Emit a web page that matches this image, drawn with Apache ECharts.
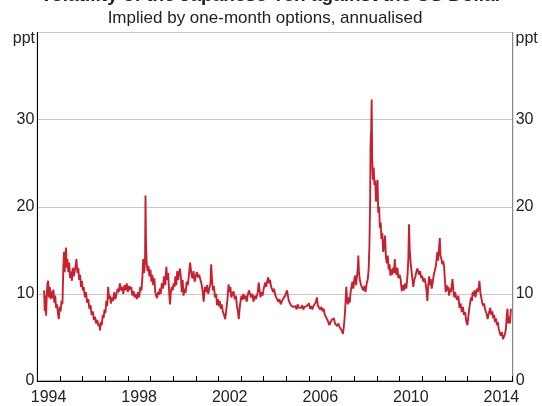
<!DOCTYPE html>
<html>
<head>
<meta charset="utf-8">
<script src="https://cdn.jsdelivr.net/npm/echarts@6/dist/echarts.min.js"></script>
<style>
html,body{margin:0;padding:0;background:#fff;}
#chart{width:542px;height:406px;}
</style>
</head>
<body>
<div id="chart"></div>
<script>
var titleText = 'Volatility of the Japanese Yen against the US Dollar';
var subtitleText = 'Implied by one-month options, annualised';
var unitLabel = 'ppt';
var yTicks = [0, 10, 20, 30, 40];
var xLabelYears = [1994, 1998, 2002, 2006, 2010, 2014];

var years = [
1994.30,1994.33,1994.36,1994.39,1994.42,1994.45,1994.48,1994.51,1994.55,1994.59,1994.63,1994.67,1994.71,1994.75,1994.79,1994.83,1994.87,1994.91,1994.95,1994.99,
1995.03,1995.07,1995.11,1995.15,1995.18,1995.21,1995.24,1995.27,1995.30,1995.33,1995.37,1995.41,1995.45,1995.49,1995.53,1995.57,1995.61,1995.65,1995.69,1995.73,1995.77,1995.81,1995.85,1995.89,1995.93,1995.97,
1996.01,1996.05,1996.10,1996.15,1996.20,1996.25,1996.30,1996.35,1996.40,1996.45,1996.50,1996.55,1996.60,1996.65,1996.70,1996.74,1996.77,1996.81,1996.85,1996.89,1996.93,1996.97,
1997.01,1997.05,1997.09,1997.13,1997.17,1997.21,1997.25,1997.30,1997.35,1997.40,1997.45,1997.50,1997.55,1997.60,1997.65,1997.70,1997.75,1997.80,1997.85,1997.90,1997.95,
1998.00,1998.05,1998.10,1998.15,1998.20,1998.25,1998.30,1998.35,1998.40,1998.45,1998.50,1998.55,1998.60,1998.64,1998.68,1998.72,1998.76,1998.78,1998.80,1998.83,1998.87,1998.91,1998.95,
1999.00,1999.04,1999.08,1999.12,1999.17,1999.21,1999.25,1999.29,1999.33,1999.37,1999.41,1999.45,1999.50,1999.55,1999.60,1999.65,1999.70,1999.74,1999.78,1999.82,1999.86,1999.90,1999.94,1999.98,
2000.02,2000.06,2000.10,2000.14,2000.18,2000.22,2000.26,2000.30,2000.34,2000.38,2000.42,2000.46,2000.50,2000.55,2000.60,2000.65,2000.70,2000.75,2000.80,2000.85,2000.90,2000.95,
2001.00,2001.05,2001.10,2001.15,2001.20,2001.25,2001.30,2001.35,2001.40,2001.45,2001.50,2001.55,2001.60,2001.65,2001.68,2001.72,2001.76,2001.80,2001.85,2001.90,2001.94,2001.98,
2002.02,2002.06,2002.10,2002.15,2002.20,2002.25,2002.30,2002.35,2002.40,2002.45,2002.49,2002.53,2002.57,2002.62,2002.67,2002.72,2002.77,2002.82,2002.86,2002.90,2002.94,2002.98,
2003.02,2003.06,2003.10,2003.15,2003.20,2003.25,2003.30,2003.35,2003.40,2003.45,2003.50,2003.55,2003.60,2003.65,2003.70,2003.74,2003.78,2003.82,2003.86,2003.90,2003.95,
2004.00,2004.04,2004.07,2004.11,2004.15,2004.20,2004.24,2004.28,2004.33,2004.37,2004.42,2004.46,2004.50,2004.55,2004.60,2004.65,2004.70,2004.75,2004.80,2004.85,2004.90,2004.95,
2005.00,2005.03,2005.07,2005.11,2005.15,2005.20,2005.25,2005.30,2005.35,2005.40,2005.45,2005.50,2005.55,2005.60,2005.65,2005.70,2005.75,2005.80,2005.85,2005.90,2005.95,
2006.00,2006.05,2006.10,2006.15,2006.20,2006.25,2006.30,2006.35,2006.40,2006.45,2006.50,2006.55,2006.60,2006.65,2006.70,2006.75,2006.80,2006.85,2006.90,2006.95,
2007.00,2007.05,2007.10,2007.15,2007.20,2007.25,2007.30,2007.35,2007.40,2007.45,2007.50,2007.54,2007.58,2007.62,2007.65,2007.68,2007.72,2007.76,2007.80,2007.84,2007.88,2007.92,2007.96,
2008.00,2008.04,2008.08,2008.12,2008.16,2008.18,2008.21,2008.25,2008.30,2008.35,2008.40,2008.45,2008.50,2008.55,2008.60,2008.64,2008.67,2008.70,2008.72,2008.75,2008.77,2008.79,2008.81,2008.83,2008.86,2008.89,2008.93,2008.96,
2009.00,2009.03,2009.06,2009.10,2009.13,2009.17,2009.20,2009.24,2009.28,2009.32,2009.36,2009.40,2009.44,2009.48,2009.52,2009.56,2009.60,2009.64,2009.68,2009.72,2009.76,2009.79,2009.83,2009.87,2009.91,2009.95,
2010.00,2010.05,2010.10,2010.15,2010.20,2010.25,2010.30,2010.35,2010.39,2010.42,2010.45,2010.49,2010.53,2010.57,2010.61,2010.65,2010.70,2010.75,2010.79,2010.83,2010.87,2010.91,2010.96,
2011.00,2011.05,2011.10,2011.15,2011.20,2011.23,2011.27,2011.31,2011.35,2011.38,2011.42,2011.46,2011.50,2011.55,2011.60,2011.64,2011.67,2011.70,2011.74,2011.78,2011.81,2011.85,2011.89,2011.93,2011.97,
2012.00,2012.04,2012.08,2012.12,2012.16,2012.19,2012.23,2012.27,2012.31,2012.34,2012.38,2012.42,2012.46,2012.50,2012.55,2012.60,2012.65,2012.70,2012.75,2012.80,2012.85,2012.90,2012.95,
2013.00,2013.04,2013.08,2013.12,2013.16,2013.20,2013.23,2013.27,2013.31,2013.35,2013.38,2013.42,2013.46,2013.50,2013.53,2013.57,2013.61,2013.65,2013.70,2013.74,2013.78,2013.82,2013.86,2013.89,2013.93,2013.97,
2014.01,2014.05,2014.10,2014.14,2014.18,2014.22,2014.26,2014.30,2014.34,2014.38,2014.42,2014.47,2014.52,2014.57,2014.62,2014.66,2014.70,2014.74,2014.77,2014.80,2014.84,2014.88,2014.92
];

var vols = [
10.4,8.0,9.8,7.5,10.0,11.2,11.5,9.6,10.8,9.4,10.3,9.5,10.5,9.0,9.8,8.4,8.8,7.8,7.1,8.5,
8.0,9.2,8.8,13.0,14.8,12.5,14.5,15.3,13.0,14.0,12.5,13.6,11.8,12.6,11.5,13.0,12.0,12.6,13.2,14.0,12.4,13.0,11.6,12.2,10.8,11.5,
10.4,10.8,9.6,10.2,9.0,9.4,8.3,8.7,7.6,8.0,7.0,7.4,6.6,7.0,6.3,6.6,5.8,6.8,6.4,7.6,7.2,8.2,
7.8,9.2,8.6,10.8,9.4,9.8,8.9,9.6,9.2,10.2,9.4,10.0,10.6,10.2,11.2,10.4,10.8,10.0,11.0,10.4,11.2,
10.2,10.9,10.5,10.8,9.8,10.3,9.6,10.0,9.4,10.2,9.6,10.8,10.4,11.8,14.0,12.4,13.8,21.3,16.0,13.6,12.6,13.2,12.0,
12.8,11.4,12.2,11.0,11.8,10.2,9.8,9.5,10.2,9.9,10.6,10.0,11.2,10.6,12.0,11.0,13.1,11.6,12.4,10.4,8.8,10.2,10.8,10.4,
11.2,10.8,12.0,11.0,12.6,11.6,12.4,12.9,12.0,10.2,11.6,9.8,10.6,10.1,11.4,11.0,12.2,13.6,12.4,11.8,12.6,11.4,
12.0,12.5,11.9,12.2,12.3,11.2,10.4,9.1,10.8,10.2,11.0,10.0,10.6,11.2,13.4,11.6,10.4,10.9,9.6,10.0,8.7,9.4,
8.6,9.2,8.3,8.8,7.9,7.6,7.1,8.2,9.4,11.1,10.2,10.8,9.6,10.0,10.3,9.4,9.8,8.6,8.0,7.1,8.4,9.2,
9.8,9.3,10.0,9.4,9.8,9.1,9.9,10.4,10.6,9.6,10.0,9.1,9.8,9.4,9.8,10.2,11.3,10.4,9.6,10.2,9.8,
10.6,10.4,11.3,10.8,11.4,11.9,11.2,11.6,10.8,11.0,10.2,10.6,10.0,9.6,9.8,9.1,9.4,8.8,8.9,9.4,9.2,9.8,
10.0,10.4,9.8,9.2,9.0,8.7,8.9,8.5,8.3,8.6,8.2,8.8,8.4,8.6,8.4,8.7,8.2,8.5,8.3,8.6,8.4,
8.9,8.3,8.6,8.2,8.6,8.4,9.0,9.6,8.6,8.8,8.2,8.5,8.0,8.3,7.6,7.4,7.1,6.8,6.4,6.6,
7.0,6.8,7.2,6.6,6.8,6.3,6.6,6.2,6.4,5.8,5.4,6.2,7.4,9.2,10.8,9.4,8.8,9.6,9.0,10.2,10.8,11.4,10.6,
11.6,12.1,11.0,12.0,13.0,14.4,12.4,11.6,11.0,10.8,10.4,10.9,10.2,11.2,11.7,13.0,15.5,20.0,26.9,29.0,32.3,26.0,24.0,23.1,24.5,22.5,23.0,20.6,
21.2,23.1,19.3,20.0,17.6,18.2,16.3,17.0,14.8,15.6,16.7,14.2,13.5,14.4,12.8,13.4,12.1,12.8,12.2,13.0,12.4,14.0,12.6,12.2,13.0,11.8,
12.2,11.7,10.3,11.0,10.4,11.2,10.6,12.0,14.0,18.0,15.1,13.6,12.6,11.7,10.8,11.6,12.0,12.6,12.9,13.1,12.2,12.6,11.8,
12.1,11.4,11.8,11.2,10.2,9.2,11.0,12.0,11.0,11.7,10.6,11.2,12.0,12.6,13.1,14.0,14.8,13.8,15.0,16.4,14.4,14.0,13.4,13.8,13.1,
11.8,10.2,11.0,10.4,10.8,9.8,10.6,10.2,11.0,11.7,10.4,9.6,10.2,9.6,9.3,9.8,8.4,8.9,7.9,8.5,7.6,7.9,6.8,
6.4,7.4,8.3,9.0,9.6,9.2,10.2,9.8,10.4,9.6,10.0,10.6,10.2,10.8,11.5,10.2,9.6,9.0,8.6,8.9,8.2,8.0,7.6,7.1,7.6,7.8,
8.4,7.6,8.0,7.2,7.6,6.8,7.2,6.4,6.8,6.0,6.2,5.2,5.6,4.8,4.7,5.4,6.0,7.6,8.3,6.6,7.4,6.6,8.3
];

var seriesData = years.map(function (y, i) { return [y, vols[i]]; });

var FONT = 'Liberation Sans, Arial, Helvetica, sans-serif';
var chart = echarts.init(document.getElementById('chart'), null, {renderer: 'canvas'});

chart.setOption({
  animation: false,
  backgroundColor: '#ffffff',
  grid: {
    left: 37.3, right: 29.3, top: 32.5, bottom: 23.5,
    show: true, borderColor: '#666', borderWidth: 1, backgroundColor: 'transparent'
  },
  graphic: [
    {type: 'text', x: 271, y: 5.5, style: {text: titleText, font: 'bold 19px ' + FONT, fill: '#222', align: 'center', verticalAlign: 'bottom'}},
    {type: 'text', x: 265, y: 18, style: {text: subtitleText, font: '17px ' + FONT, fill: '#222', align: 'center', verticalAlign: 'middle'}},
    {type: 'text', x: 35, y: 39, style: {text: unitLabel, font: '16px ' + FONT, fill: '#222', align: 'right', verticalAlign: 'middle'}},
    {type: 'text', x: 515.5, y: 39, style: {text: unitLabel, font: '16px ' + FONT, fill: '#222', align: 'left', verticalAlign: 'middle'}}
  ],
  xAxis: {
    type: 'value', min: 1994, max: 2015, interval: 1,
    axisLine: {show: true, lineStyle: {color: '#000', width: 1}},
    axisTick: {show: true, inside: true, length: 5, lineStyle: {color: '#000'}},
    axisLabel: {
      show: true, margin: 9, fontSize: 16, color: '#222', fontFamily: FONT,
      customValues: xLabelYears.map(function (y) { return y + 0.5; }),
      formatter: function (v) { return String(Math.floor(v)); }
    },
    splitLine: {show: false}
  },
  yAxis: [
    {
      type: 'value', min: yTicks[0], max: yTicks[yTicks.length - 1], interval: 10, position: 'left',
      axisLine: {show: true, lineStyle: {color: '#000', width: 1}},
      axisTick: {show: false},
      axisLabel: {margin: 3, fontSize: 16, color: '#222', fontFamily: FONT,
        formatter: function (v) { return v === 40 ? '' : String(v); }},
      splitLine: {show: true, lineStyle: {color: '#c8c8c8', width: 1}}
    },
    {
      type: 'value', min: yTicks[0], max: yTicks[yTicks.length - 1], interval: 10, position: 'right',
      axisLine: {show: true, lineStyle: {color: '#888', width: 1}},
      axisTick: {show: false},
      axisLabel: {margin: 3, fontSize: 16, color: '#222', fontFamily: FONT,
        formatter: function (v) { return v === 40 ? '' : String(v); }},
      splitLine: {show: false}
    }
  ],
  series: [{
    type: 'line',
    data: seriesData,
    showSymbol: false,
    symbol: 'none',
    lineStyle: {color: '#c8202f', width: 1.9},
    z: 3
  }]
});
</script>
</body>
</html>
